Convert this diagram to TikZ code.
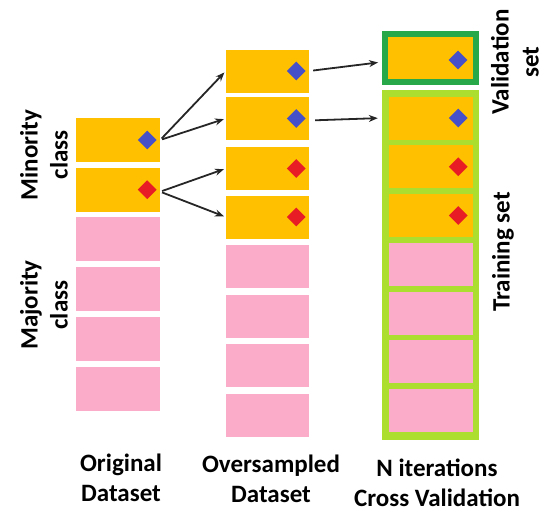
\documentclass[tikz,border=0pt]{standalone}
\usepackage{fontspec}
\setmainfont{Carlito}
\usetikzlibrary{shapes.geometric,arrows.meta,calc}
\definecolor{minor}{RGB}{255,192,0}
\definecolor{major}{RGB}{250,172,200}
\definecolor{valgreen}{RGB}{40,168,72}
\definecolor{traingreen}{RGB}{172,222,48}
\definecolor{gemblue}{RGB}{70,80,200}
\definecolor{gemred}{RGB}{232,28,36}
\begin{document}
\begin{tikzpicture}[x=1pt,y=-1pt,
  cell/.style={rectangle,inner sep=0pt,minimum width=84pt,minimum height=43pt},
  mincell/.style={cell,fill=minor},
  majcell/.style={cell,fill=major},
  gem/.style={diamond,inner sep=0pt,minimum width=19pt,minimum height=19pt},
  bluegem/.style={gem,fill=gemblue},
  redgem/.style={gem,fill=gemred},
  arr/.style={-{Stealth[length=9pt,width=7pt]},line width=1.8pt,draw=black!85},
  lbl/.style={font=\fontsize{25}{30}\selectfont\bfseries,align=center}]
\useasboundingbox (0,0) rectangle (544,512);

% original dataset
\node[mincell,minimum height=44pt] (o1) at (118,140) {};
\node[mincell,minimum height=44pt] (o2) at (118,189.7) {};
\node[majcell,minimum height=44pt] (o3) at (118,239.4) {};
\node[majcell,minimum height=44pt] (o4) at (118,289.1) {};
\node[majcell,minimum height=44pt] (o5) at (118,338.8) {};
\node[majcell,minimum height=44pt] (o6) at (118,388.5) {};
\node[bluegem] (og1) at ($(o1.east)+(-13,0)$) {};
\node[redgem] (og2) at ($(o2.east)+(-13,0)$) {};

% oversampled dataset
\node[mincell,minimum width=83pt] (s1) at (267.5,71) {};
\node[mincell,minimum width=83pt] (s2) at (267.5,118.5) {};
\node[mincell,minimum width=83pt] (s3) at (267.5,168.5) {};
\node[mincell,minimum width=83pt] (s4) at (267.5,217) {};
\node[majcell,minimum width=83pt] (s5) at (267.5,266.5) {};
\node[majcell,minimum width=83pt] (s6) at (267.5,316.5) {};
\node[majcell,minimum width=83pt] (s7) at (267.5,365.5) {};
\node[majcell,minimum width=83pt] (s8) at (267.5,415.5) {};
\node[bluegem] (sg1) at ($(s1.east)+(-13,0)$) {};
\node[bluegem] (sg2) at ($(s2.east)+(-13,0)$) {};
\node[redgem] (sg3) at ($(s3.east)+(-13,0)$) {};
\node[redgem] (sg4) at ($(s4.east)+(-13,0)$) {};

% cross validation split
\node[rectangle,fill=minor,draw=valgreen,line width=6pt,inner sep=0pt,
      minimum width=91pt,minimum height=48pt] (val) at (430.5,58) {};
\node[bluegem] (vg) at (458,60) {};
\node[rectangle,fill=traingreen,inner sep=0pt,minimum width=97pt,
      minimum height=350pt] (train) at (430.5,265) {};
\node[mincell] (t1) at (431,118) {};
\node[mincell] (t2) at (431,166.75) {};
\node[mincell] (t3) at (431,215.5) {};
\node[majcell] (t4) at (431,264.25) {};
\node[majcell] (t5) at (431,313) {};
\node[majcell] (t6) at (431,361.75) {};
\node[majcell] (t7) at (431,410.5) {};
\node[bluegem] (tg1) at ($(t1.east)+(-15,0)$) {};
\node[redgem] (tg2) at ($(t2.east)+(-15,0)$) {};
\node[redgem] (tg3) at ($(t3.east)+(-15,0)$) {};

% oversampling arrows
\draw[arr,shorten <=2pt,shorten >=2pt] (o1.east) -- (s1.west);
\draw[arr,shorten <=2pt,shorten >=2pt] (o1.east) -- (s2.west);
\draw[arr,shorten <=2pt,shorten >=2pt] ($(o2.east)+(0,2)$) -- (s3.west);
\draw[arr,shorten <=2pt,shorten >=2pt] ($(o2.east)+(0,2)$) -- (s4.west);
% split arrows
\draw[arr,shorten <=4pt,shorten >=4pt] (s1.east) -- ($(val.west)+(0,4)$);
\draw[arr,shorten <=6pt,shorten >=4pt] ($(s2.east)+(0,2)$) -- (train.west |- t1);

% labels
\node[lbl,rotate=90] (minlbl) at (44,155) {Minority\\class};
\node[lbl,rotate=90] (majlbl) at (44,305) {Majority\\class};
\node[lbl,rotate=90] (vallbl) at (515,62) {Validation\\set};
\node[lbl,rotate=90] (trainlbl) at (503,252) {Training set};
\node[lbl] (origlbl) at (121,478) {Original\\Dataset};
\node[lbl] (ovlbl) at (271,479) {Oversampled\\Dataset};
\node[lbl] (cvlbl) at (437,483) {N iterations\\Cross Validation};
\end{tikzpicture}
\end{document}
